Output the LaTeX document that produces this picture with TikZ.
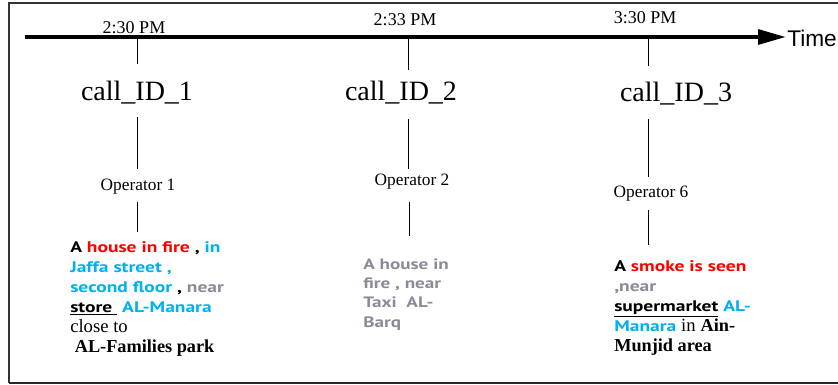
\documentclass[tikz,border=0pt]{standalone}
\usepackage{fontspec}
\setmainfont{Liberation Serif}
\setsansfont{PT Sans}[FakeStretch=1.27]
\newfontfamily\arialfont{Liberation Sans}
\usepackage{tikz}
\usetikzlibrary{arrows.meta}
\definecolor{firered}{RGB}{255,0,0}
\definecolor{placeblue}{RGB}{0,176,240}
\definecolor{neargray}{RGB}{138,138,152}

\newcommand{\plain}[1]{{\rmfamily\mdseries\fontsize{14}{15}\selectfont #1}}
\newcommand{\heavy}[1]{{\rmfamily\bfseries\fontsize{13.7}{15}\selectfont #1}}

\tikzset{
  timelabel/.style={font=\fontsize{13.5}{16}\selectfont},
  callid/.style={font=\fontsize{21}{24}\selectfont},
  operator/.style={font=\fontsize{13}{15}\selectfont},
  report/.style={anchor=base west, align=left, inner sep=0pt,
    font=\sffamily\bfseries\fontsize{11.5}{15}\selectfont}
}

\begin{document}
\begin{tikzpicture}[x=0.75pt,y=-0.75pt]
\useasboundingbox (0,0) rectangle (838,385);
% frame
\draw[black!80, line width=1pt] (845,3) -- (9,3) -- (9,383);
\draw[black!85, line width=1.5pt] (9,383) -- (845,383);

% time axis
\coordinate (start) at (25,37);
\coordinate (end) at (786,37);
\draw[line width=3pt, -{Triangle[length=21pt, width=11pt]}] (start) -- (end);
\node[anchor=west, inner sep=0pt, font=\arialfont\fontsize{17}{20}\selectfont] (time) at (787,38) {Time};

\foreach \i/\x/\ty/\t in {1/137/28/2:30 PM,2/408/20/2:33 PM,3/648/18/3:30 PM}{
  \coordinate (k\i) at (\x,37);
  \node[timelabel] (t\i) at (\x-3,\ty) {\t};
}
\draw (k1) -- ++(0,27);
\draw (k2) -- ++(0,33);
\draw (k3) -- ++(0,29);

% calls
\node[callid] (c1) at (137,93) {call\_ID\_1};
\node[callid] (c2) at (401,93) {call\_ID\_2};
\node[callid] (c3) at (676,94) {call\_ID\_3};

\node[operator] (op1) at (138,187) {Operator 1};
\node[operator] (op2) at (412,182) {Operator 2};
\node[operator] (op3) at (651,194) {Operator 6};

\draw (k1 |- 0,117) -- (k1 |- 0,169);
\draw (k1 |- 0,202) -- (k1 |- 0,232);
\draw (k2 |- 0,119) -- (k2 |- 0,169);
\draw ([xshift=0.75pt]k2 |- 0,202) -- ([xshift=0.75pt]k2 |- 0,236);
\draw (k3 |- 0,119) -- (k3 |- 0,177);
\draw (k3 |- 0,210) -- (k3 |- 0,245);

% reports (anchored on the last line)
\node[report] (r1) at (70,352) {A {\color{firered}house in fire} , {\color{placeblue}in}\\
  {\color{placeblue}Jaffa street ,}\\
  {\color{placeblue}second floor} , {\color{neargray}near}\\
  \underline{store\ } {\color{placeblue}AL-Manara}\\
  \plain{close to}\\
  \heavy{\ AL-Families park}};
\node[report, text=neargray, font=\sffamily\bfseries\fontsize{11.3}{14.3}\selectfont] (r2) at (363,327) {A house in\\
  fire , near\\
  Taxi\ \ AL-\\
  Barq};
\node[report] (r3) at (614,351) {A {\color{firered}smoke is seen}\\
  {\color{neargray},near}\\
  \underline{supermarket} {\color{placeblue}AL-}\\
  {\color{placeblue}Manara} \plain{in} \heavy{Ain-}\\
  \heavy{Munjid area}};
\end{tikzpicture}
\end{document}
